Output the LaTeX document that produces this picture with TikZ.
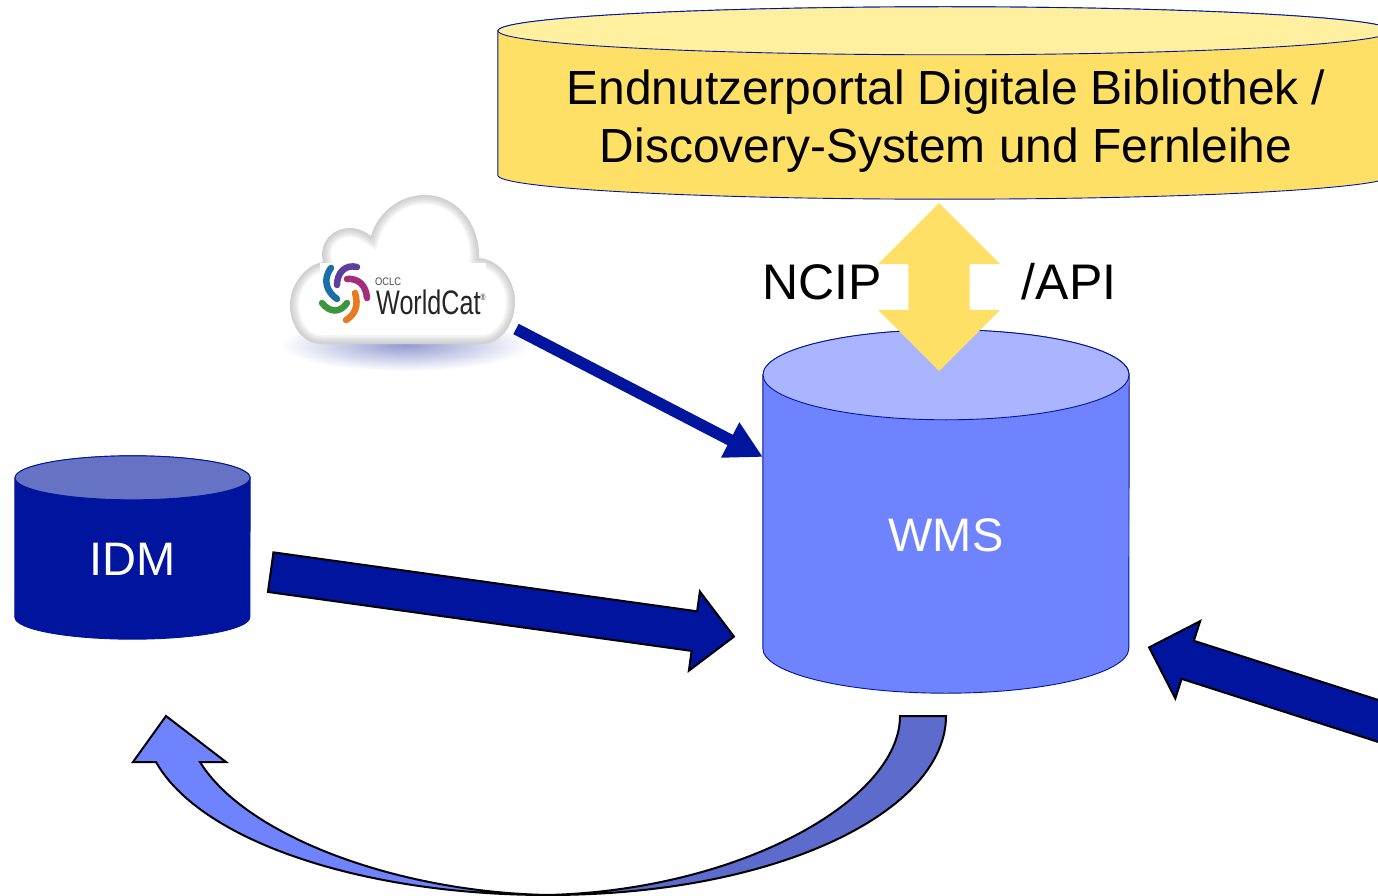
\documentclass[tikz,border=0pt]{standalone}
\usepackage{fontspec}
\setmainfont{Liberation Sans}
\usetikzlibrary{shapes.arrows,calc,arrows.meta}
\definecolor{navyblue}{HTML}{00149E}
\definecolor{wmsblue}{HTML}{7083FF}
\definecolor{wmstop}{HTML}{ABB5FF}
\definecolor{idmtop}{HTML}{6672C4}
\definecolor{curvedark}{HTML}{5C6BCC}
\definecolor{portalyellow}{HTML}{FFE066}
\definecolor{portaltop}{HTML}{FFF0A0}
\definecolor{logoblue}{HTML}{1C6FA6}
\definecolor{logoviolet}{HTML}{5F3F9E}
\definecolor{logomagenta}{HTML}{A52C7C}
\definecolor{logoorange}{HTML}{E87A20}
\definecolor{logogreen}{HTML}{3F9440}
\tikzset{
	dbbox/.style={inner sep=0pt,align=center},
	bigtext/.style={font=\fontsize{47}{58}\selectfont,align=center},
	blockhead/.style={single arrow,draw=black,line width=2pt,fill=navyblue,inner xsep=0pt,inner ysep=19pt,single arrow tip angle=90},
	logoarc/.style={line width=6.5pt,line cap=round},
}
% cylinder round a node: name, x radius, y radius, body colour, end colour
\newcommand{\dbshape}[5]{
	\filldraw[draw=navyblue,line width=0.9pt,fill=#4] (#1.north west) -- ($(#1.south west)+(0,-#3)$) arc[start angle=180,end angle=0,x radius=#2,y radius=#3] -- (#1.north east) arc[start angle=0,end angle=-180,x radius=#2,y radius=#3] -- cycle;
	\filldraw[draw=navyblue,line width=0.9pt,fill=#5] (#1.north) ellipse[x radius=#2,y radius=#3];
}
% arrow shape from one named point to another
\newcommand{\blockarrow}[3][]{
	\path let \p1=($(#3)-(#2)$), \n1={atan2(\y1,\x1)}, \n2={veclen(\x1,\y1)} in
		node[blockhead,#1,rotate=\n1,minimum height=\n2,anchor=tail] at (#2) {};
}
\def\cloudpath{(322,344) .. controls (300,344) and (290,322) .. (290,305)
	.. controls (290,285) and (305,265) .. (323,262)
	.. controls (318,240) and (335,228) .. (350,228)
	.. controls (358,228) and (366,232) .. (371,236)
	.. controls (378,212) and (400,195) .. (425,195)
	.. controls (455,195) and (480,222) .. (479,258)
	.. controls (500,260) and (515,280) .. (515,302)
	.. controls (515,325) and (500,344) .. (482,344) -- cycle}
\begin{document}
\begin{tikzpicture}[x=1pt,y=-1pt]
	\clip (0,0) rectangle (1378,896);

	% Databases
	\node[dbbox,minimum width=894pt,minimum height=168pt] (portal) at (945,115) {};
	\dbshape{portal}{447}{24}{portalyellow}{portaltop}
	\node[dbbox,font=\fontsize{47.9}{58}\selectfont] (portaltext) at (946,121) {Endnutzerportal Digitale Bibliothek /\\Discovery-System und Fernleihe};

	\node[dbbox,minimum width=366pt,minimum height=318pt] (wms) at (946,534) {};
	\dbshape{wms}{183}{45}{wmsblue}{wmstop}
	\node[bigtext,text=white] (wmstext) at (946,535) {WMS};

	\node[dbbox,minimum width=235pt,minimum height=161pt] (idm) at (132.5,558.5) {};
	\dbshape{idm}{117.5}{22}{navyblue}{idmtop}
	\node[bigtext,text=white] (idmtext) at (132.5,559) {IDM};

	% Double arrow between portal and WMS
	\node[double arrow,rotate=90,fill=portalyellow,inner xsep=0pt,inner ysep=30.5pt,minimum height=168pt,double arrow head extend=30.5pt,double arrow tip angle=90] (ncip) at (939,287) {};
	\node[font=\fontsize{50}{58}\selectfont,anchor=base] (nciptext) at (822.5,299) {NCIP};
	\node[font=\fontsize{50}{58}\selectfont,anchor=base] (apitext) at (1069,299) {/API};

	% Cloud
	\shade[inner color=wmsblue!55!gray!80!white,outer color=white] (405,345) ellipse (125 and 26);
	\begin{scope}
		\clip \cloudpath;
		\fill[white] \cloudpath;
		\foreach \w in {18,15,12,9,6,3}
		\draw[black!40,line width=\w pt,opacity=0.09] \cloudpath;
	\end{scope}
	\node[fill=white,minimum width=166pt,minimum height=62pt,inner sep=0pt,anchor=north west] (logo) at (320,263) {};
	\draw[logoarc,logoblue] (331,268) .. controls (322,280) and (327,292) .. (337,299);
	\draw[logoarc,logoviolet] (357,267) .. controls (345,264) and (337,273) .. (337,285);
	\draw[logoarc,logomagenta] (347,279) .. controls (358,278) and (366,285) .. (367,298);
	\draw[logoarc,logoorange] (355,293) .. controls (359,305) and (355,315) .. (346,320);
	\draw[logoarc,logogreen] (322,303) .. controls (330,313) and (340,313) .. (347,303);
	\node[anchor=base west,inner sep=0pt,font=\fontsize{11}{11}\selectfont,black!70] (oclc) at (375,285) {\scalebox{0.85}[1]{OCLC}};
	\node[anchor=base west,inner sep=0pt,font=\fontsize{34}{34}\selectfont,black!85] (worldcat) at (376,314) {\scalebox{0.74}[1]{WorldCat\raisebox{14pt}{\fontsize{9}{9}\selectfont ®}}};

	% Arrows
	\coordinate (cloudout) at (516,329);
	\coordinate (wmsleft) at (763,457);
	\draw[navyblue,line width=11.7pt,-{Triangle[length=37pt,width=37pt]}] (cloudout) -- (wmsleft);

	\coordinate (idmout) at (269.7,572);
	\coordinate (wmsin) at (733,636.5);
	\blockarrow[single arrow head extend=20pt]{idmout}{wmsin}

	\coordinate (extern) at (1450,744);
	\coordinate (wmsright) at (1150,647.7);
	\blockarrow[single arrow head extend=20.6pt]{extern}{wmsright}

	% Curved arrow from WMS back to IDM
	\draw[black,line width=2pt,fill=curvedark] (900,716) -- (946,716) .. controls (946,810) and (780,895) .. (548,895) .. controls (740,890) and (900,800) .. cycle;
	\draw[black,line width=2pt,fill=wmsblue] (548,895) .. controls (360,895) and (200,840) .. (156,762) -- (133,762) -- (166,716) -- (226,762) -- (200,762) .. controls (245,835) and (395,892) .. cycle;
\end{tikzpicture}
\end{document}
